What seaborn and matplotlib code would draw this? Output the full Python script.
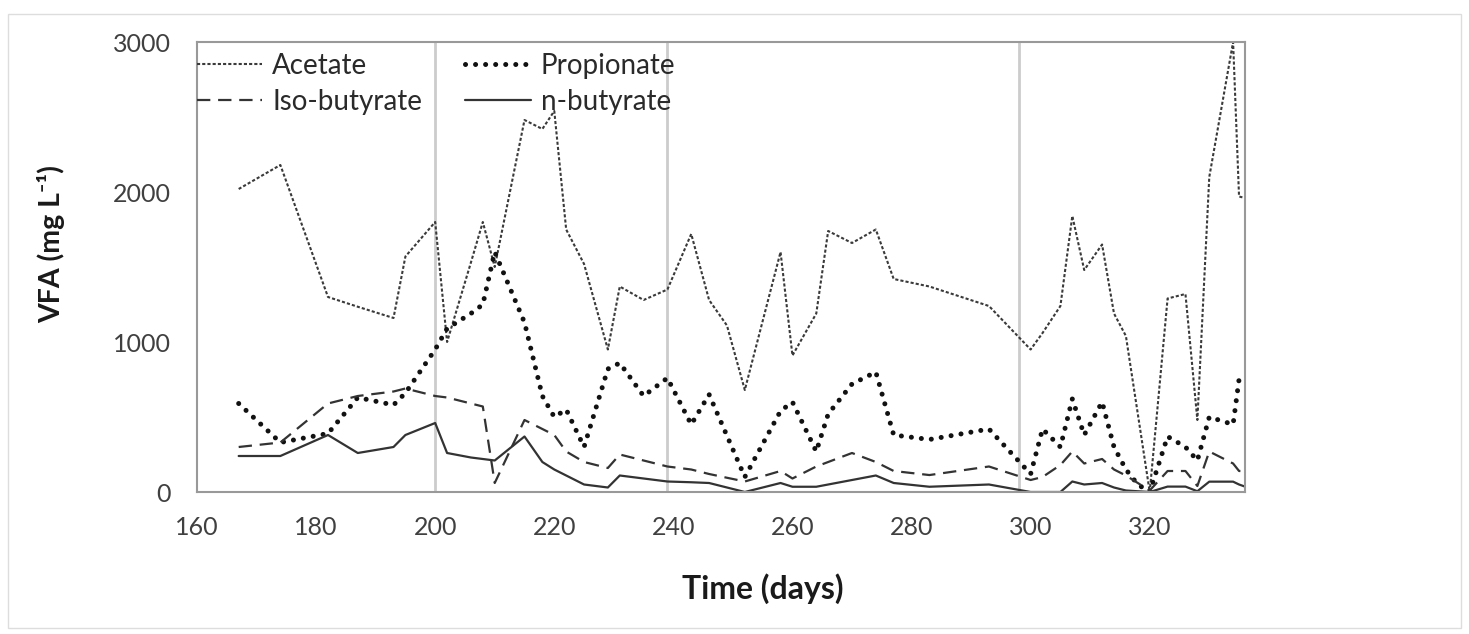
import matplotlib
matplotlib.use("Agg")
import matplotlib.pyplot as plt
from matplotlib.patches import Rectangle
import seaborn as sns
import pandas as pd

# ---- data ----
days = [167, 174, 182, 187, 193, 195, 200, 202, 206, 208, 210, 215, 218, 220, 222,
        225, 229, 231, 235, 239, 243, 246, 249, 252, 258, 260, 264, 266, 270, 274,
        277, 283, 293, 300, 302, 305, 307, 309, 312, 314, 316, 318, 320, 323, 326,
        328, 330, 334, 335, 336]

acetate = [2020, 2180, 1300, 1235, 1160, 1570, 1800, 1000, 1530, 1800, 1500, 2480, 2420, 2540, 1750,
           1520, 950, 1370, 1280, 1350, 1720, 1280, 1110, 680, 1600, 910, 1190, 1740, 1660, 1750,
           1420, 1370, 1240, 950, 1060, 1240, 1840, 1480, 1650, 1190, 1040, 520, 0, 1290, 1320,
           480, 2100, 3000, 1970, 1960]

propionate = [590, 330, 390, 630, 580, 660, 950, 1090, 1190, 1250, 1600, 1130, 640, 500, 550,
              300, 820, 860, 640, 760, 450, 650, 375, 100, 540, 600, 270, 520, 720, 800,
              380, 350, 420, 120, 420, 300, 620, 380, 600, 300, 150, 50, 0, 370, 300,
              210, 500, 450, 750, 750]

iso_butyrate = [300, 330, 590, 640, 670, 690, 640, 630, 590, 570, 60, 480, 420, 380, 270,
                200, 160, 250, 210, 170, 150, 120, 95, 70, 140, 90, 170, 200, 260, 200,
                140, 113, 170, 80, 100, 180, 270, 190, 220, 150, 110, 60, 10, 140, 140,
                40, 270, 190, 140, 140]

n_butyrate = [240, 240, 380, 260, 300, 380, 460, 260, 230, 220, 210, 370, 200, 150, 110,
              50, 30, 110, 90, 70, 65, 60, 30, 0, 60, 35, 35, 50, 80, 110,
              60, 35, 50, 0, 0, 0, 70, 50, 60, 30, 10, 5, 0, 36, 36,
              5, 69, 69, 50, 36]

phase_days = [200, 239, 298]
x_ticks = [160, 180, 200, 220, 240, 260, 280, 300, 320]
y_ticks = [0, 1000, 2000, 3000]
series_names = ["Acetate", "Propionate", "Iso-butyrate", "n-butyrate"]

df = pd.DataFrame({"day": days, "Acetate": acetate, "Propionate": propionate,
                   "Iso-butyrate": iso_butyrate, "n-butyrate": n_butyrate})

# ---- style ----
sns.set_style("white")
plt.rcParams["font.family"] = ["Lato", "DejaVu Sans"]

fig = plt.figure(figsize=(14.69, 6.34), dpi=100)
ax = fig.add_axes([197 / 1469, 1 - 492 / 634, (1245 - 197) / 1469, (492 - 42) / 634])

for d in phase_days:
    ax.axvline(d, color="#cccccc", lw=2, zorder=0)

styles = {
    "Acetate": dict(color="#3a3a3a", lw=1.5, linestyle=(0, (1.5, 1.0))),
    "Propionate": dict(color="#111111", lw=3.6, linestyle=(0, (0.01, 2.0)),
                       dash_capstyle="round"),
    "Iso-butyrate": dict(color="#333333", lw=1.6, linestyle=(0, (6, 3.5))),
    "n-butyrate": dict(color="#333333", lw=1.6, linestyle="-"),
}
for name in series_names:
    sns.lineplot(data=df, x="day", y=name, ax=ax, label=name, **styles[name])

ax.set_xlim(160, 336)
ax.set_ylim(0, 3000)
ax.set_xticks(x_ticks)
ax.set_yticks(y_ticks)

for sp in ax.spines.values():
    sp.set_visible(True)
    sp.set_color("#999999")
    sp.set_linewidth(1.5)

ax.tick_params(axis="both", direction="out", length=7, width=1.2, color="#999999",
               labelsize=18, labelcolor="#404040")
ax.tick_params(axis="y", pad=12)
ax.tick_params(axis="x", pad=10)

ax.set_xlabel("Time (days)", fontsize=23, fontweight="bold", color="#1a1a1a")
ax.set_ylabel("VFA (mg L\u207b\u00b9)", fontsize=20.5, fontweight="bold", color="#1a1a1a")
ax.xaxis.set_label_coords(0.54, -0.18)
ax.yaxis.set_label_coords(-0.126, 0.55)

handles, labels = ax.get_legend_handles_labels()
order = [0, 2, 1, 3]
ax.legend([handles[i] for i in order], [labels[i] for i in order], ncol=2,
          loc="upper left", bbox_to_anchor=(-0.0105, 1.0), frameon=False,
          fontsize=20, handlelength=2.35, handletextpad=0.36, columnspacing=1.55,
          borderaxespad=0.0, borderpad=0.4, labelspacing=0.36, labelcolor="#2a2a2a")

fig.patches.append(Rectangle((8 / 1469, 6 / 634), 1 - 16 / 1469, 1 - 20 / 634,
                             transform=fig.transFigure, fill=False,
                             edgecolor="#dddddd", lw=1))

fig.savefig("out.png", dpi=100, facecolor="white")
